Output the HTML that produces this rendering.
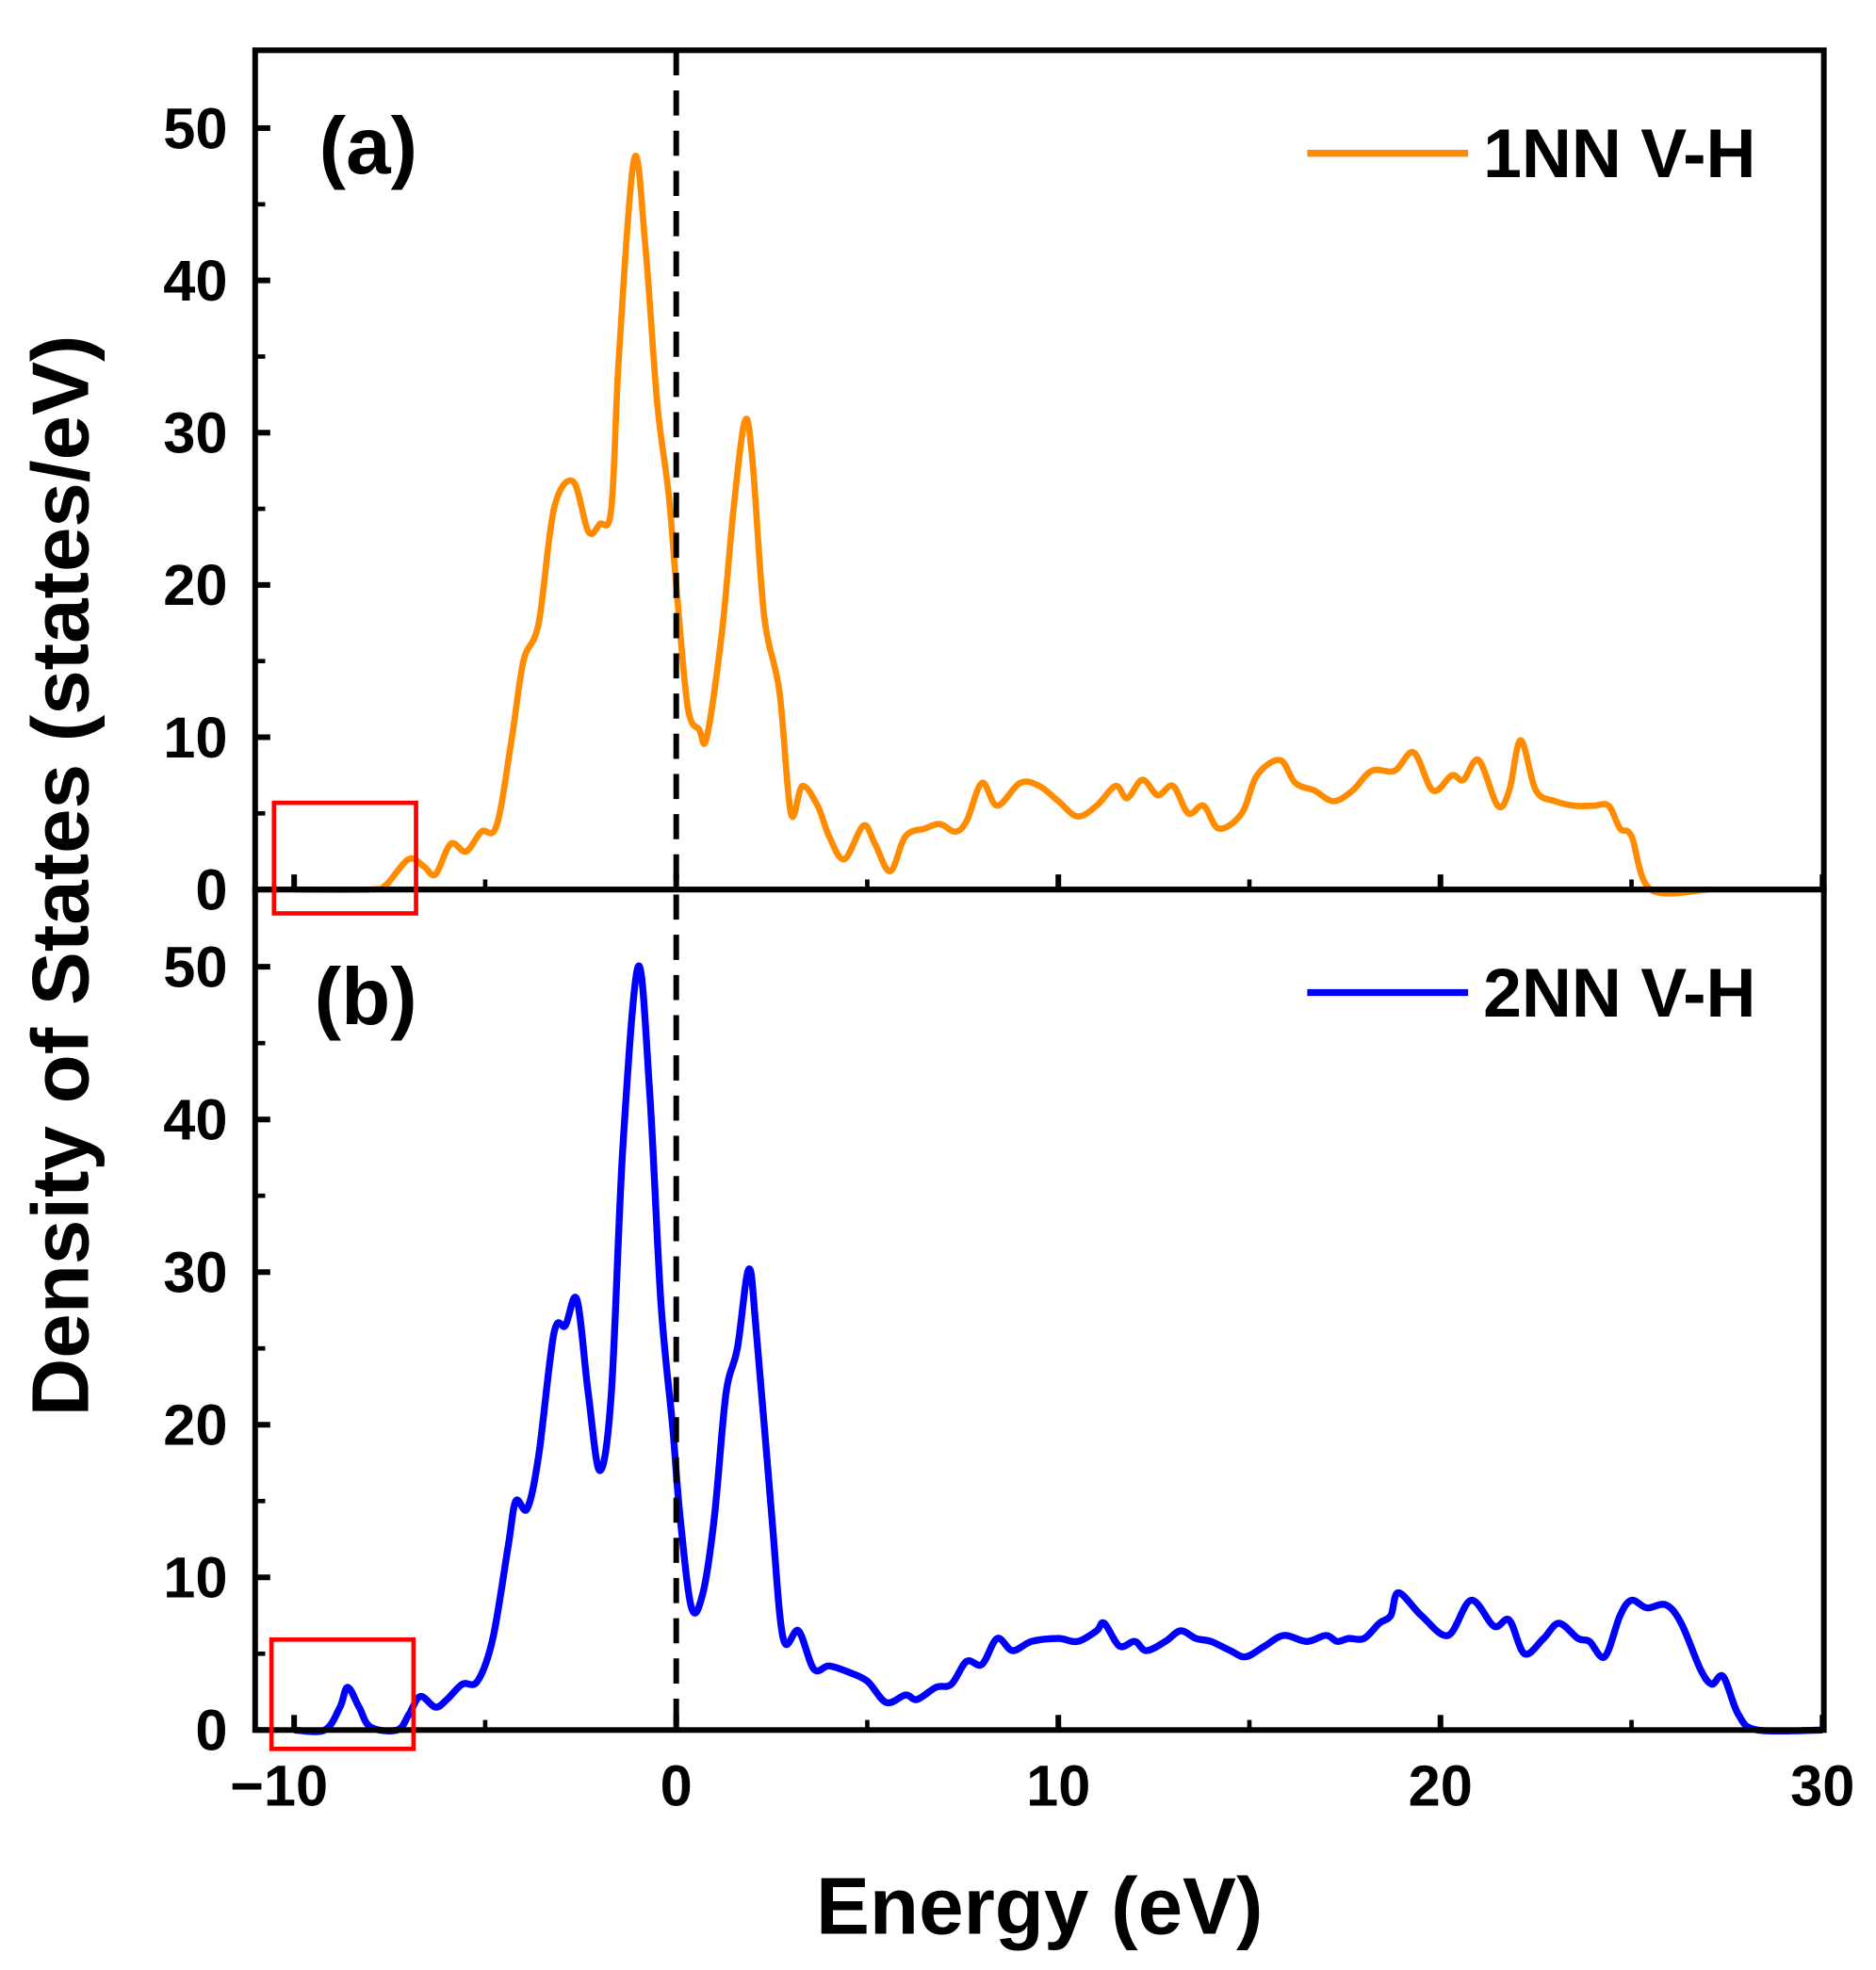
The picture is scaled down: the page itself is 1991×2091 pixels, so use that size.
<!DOCTYPE html>
<html><head><meta charset="utf-8"><style>
html,body{margin:0;padding:0;background:#fff}
svg{display:block}
text{font-family:"Liberation Sans",Arial,sans-serif;font-weight:bold;fill:#000}
</style></head><body>
<svg id="chart" width="1991" height="2091" viewBox="0 0 1492.5 1568" preserveAspectRatio="none" xmlns="http://www.w3.org/2000/svg">
<g id="g"></g>
</svg>
<script>
const xTicks=[-10,0,10,20,30];
const xTickLabels=["\u221210","0","10","20","30"];
const yTicks=[0,10,20,30,40,50];
const yTickLabels=["0","10","20","30","40","50"];
const seriesAX=[-10,-8,-7.6,-7,-6.6,-6.3,-5.9,-5.5,-5.1,-4.7,-4.3,-4,-3.6,-3.2,-2.7,-2.3,-2,-1.7,-1.5,-1.1,-0.8,-0.5,-0.2,0,0.3,0.6,0.8,1.2,1.5,1.8,2,2.3,2.7,3,3.3,3.7,4,4.4,4.9,5.2,5.6,6,6.5,6.9,7.3,7.6,8,8.4,9,9.5,10,10.5,11,11.5,11.8,12.2,12.6,13,13.4,13.8,14.2,14.8,15.2,15.8,16.2,16.7,17.2,17.7,18.2,18.8,19.3,19.8,20.3,20.6,21,21.5,21.8,22.1,22.5,23,23.5,24,24.4,24.7,25,25.5,27];
const seriesAY=[0,0,0.3,2,1.5,1,3,2.5,3.8,4.2,10,15,17.5,25,26.8,23.5,24,25,35,48,42,32,26,20,12,10.5,10,17,25,30.8,28,18,13,5,6.8,5.5,3.5,2,4.2,3,1.2,3.5,4,4.3,3.8,4.5,7,5.5,7,6.8,5.8,4.8,5.5,6.8,6,7.2,6.2,6.8,5,5.5,4,5,7.5,8.5,7,6.5,5.8,6.5,7.8,7.8,9,6.5,7.5,7.2,8.5,5.5,6.5,9.8,6.5,5.8,5.5,5.5,5.5,4,3.5,0,0];
const seriesBX=[-10,-9.2,-8.8,-8.6,-8.3,-8,-7.3,-7,-6.7,-6.3,-6,-5.6,-5.2,-4.8,-4.4,-4.2,-3.9,-3.6,-3.2,-2.9,-2.6,-2.3,-2,-1.7,-1.4,-1,-0.7,-0.4,-0.1,0.1,0.4,0.7,1,1.3,1.6,1.9,2.1,2.5,2.8,3.2,3.6,4,4.5,5,5.5,6,6.3,6.8,7.2,7.6,8,8.4,8.8,9.3,10,10.5,11,11.2,11.6,12,12.3,12.8,13.2,13.6,14,14.5,14.9,15.4,15.9,16.5,17,17.3,17.6,18,18.4,18.7,18.9,19.5,20.2,20.8,21.4,21.8,22.2,22.7,23.1,23.6,23.9,24.3,24.7,25,25.4,25.9,26.3,26.8,27.1,27.4,27.8,28.3,30];
const seriesBY=[0,0,1.5,2.8,1.5,0.2,0,1,2.2,1.5,2,3,3.2,6,12,15,14.5,18,26,26.5,28.2,22,17,22,38,50,42,28,20,14,8,9,14,22,25,30.2,26,14,6,6.5,4,4.2,3.8,3.2,1.8,2.3,2,2.8,3,4.5,4.3,6,5.2,5.8,6,5.8,6.5,7,5.5,5.8,5.2,5.8,6.5,6,5.8,5.2,4.8,5.5,6.2,5.8,6.2,5.8,6,6,7,7.5,9,7.5,6.2,8.5,6.8,7.2,5,6,7,6,5.8,4.8,7.5,8.5,8,8.2,7,4,3,3.5,1,0,0];

const NS="http://www.w3.org/2000/svg";
const g=document.getElementById('g');
const L=203,R=1451,T=40,M=708,B=1377;
function sx(v){return 234+(v+10)*30.4;}
function syA(v){return 708-v*12.12;}
function syB(v){return 1377-v*12.15;}
function mk(tag,attrs){const e=document.createElementNS(NS,tag);for(const k in attrs)e.setAttribute(k,attrs[k]);g.appendChild(e);return e;}
function txt(s,x,y,size,anchor){const t=mk('text',{x:x,y:y,'font-size':size,'text-anchor':anchor||'middle'});t.textContent=s;return t;}
function curve(xs,ys,fy){
  const p=xs.map((x,i)=>[sx(x),fy(ys[i])]);
  let d='M'+p[0][0].toFixed(1)+','+p[0][1].toFixed(1);
  for(let i=0;i<p.length-1;i++){
    const p0=p[Math.max(0,i-1)],p1=p[i],p2=p[i+1],p3=p[Math.min(p.length-1,i+2)];
    const c1=[p1[0]+(p2[0]-p0[0])/6,p1[1]+(p2[1]-p0[1])/6];
    const c2=[p2[0]-(p3[0]-p1[0])/6,p2[1]-(p3[1]-p1[1])/6];
    d+='C'+c1[0].toFixed(1)+','+c1[1].toFixed(1)+' '+c2[0].toFixed(1)+','+c2[1].toFixed(1)+' '+p2[0].toFixed(1)+','+p2[1].toFixed(1);
  }
  return d;
}
let e=mk('path',{d:curve(seriesAX,seriesAY,syA),fill:'none',stroke:'#ff8c00','stroke-width':5,'stroke-linejoin':'round'});


e=mk('path',{d:curve(seriesBX,seriesBY,syB),fill:'none',stroke:'#0000ff','stroke-width':5.5,'stroke-linejoin':'round'});


e=mk('line',{x1:sx(0),x2:sx(0),y1:T,y2:B,stroke:'#000','stroke-width':4.5,'stroke-dasharray':'20,12'});


e=mk('rect',{x:L,y:T,width:R-L,height:M-T,fill:'none',stroke:'#000','stroke-width':4.5});


e=mk('rect',{x:L,y:M,width:R-L,height:B-M,fill:'none',stroke:'#000','stroke-width':4.5});


[[syA,'a'],[syB,'b']].forEach(([fy,p])=>{
  yTicks.forEach((v,i)=>{
    e=mk('line',{x1:L,x2:L+12,y1:fy(v),y2:fy(v),stroke:'#000','stroke-width':4.5});
    
    
    e=txt(yTickLabels[i],181,fy(v)+16,46,'end');
    
    
    if(v<50){e=mk('line',{x1:L,x2:L+8,y1:fy(v+5),y2:fy(v+5),stroke:'#000','stroke-width':3.5});
    
    }
  });
  const base=p==='a'?M:B;
  xTicks.forEach((v,i)=>{
    e=mk('line',{x1:sx(v),x2:sx(v),y1:base,y2:base-12,stroke:'#000','stroke-width':4.5});
    
    
    if(v<30){e=mk('line',{x1:sx(v+5),x2:sx(v+5),y1:base,y2:base-8,stroke:'#000','stroke-width':3.5});
    
    }
  });
});
xTicks.forEach((v,i)=>{
  e=txt(xTickLabels[i],sx(v)-(v<0?12:0),1437,46);
  
  
});
e=txt('Energy (eV)',827,1539,64);


e=txt('Density of States (states/eV)',0,0,64);
e.setAttribute('transform','translate(70,697) rotate(-90)');


e=txt('(a)',293,138,64);


e=txt('(b)',291,815,64);


e=mk('line',{x1:1040,x2:1168,y1:122,y2:122,stroke:'#ff8c00','stroke-width':5.5});


e=txt('1NN V-H',1180,141,55,'start');


e=mk('line',{x1:1040,x2:1168,y1:790,y2:790,stroke:'#0000ff','stroke-width':5.5});


e=txt('2NN V-H',1180,809,55,'start');


e=mk('rect',{x:218,y:639,width:113,height:88,fill:'none',stroke:'#ff0000','stroke-width':3.5});


e=mk('rect',{x:216,y:1305,width:113,height:87,fill:'none',stroke:'#ff0000','stroke-width':3.5});


</script>
</body></html>
